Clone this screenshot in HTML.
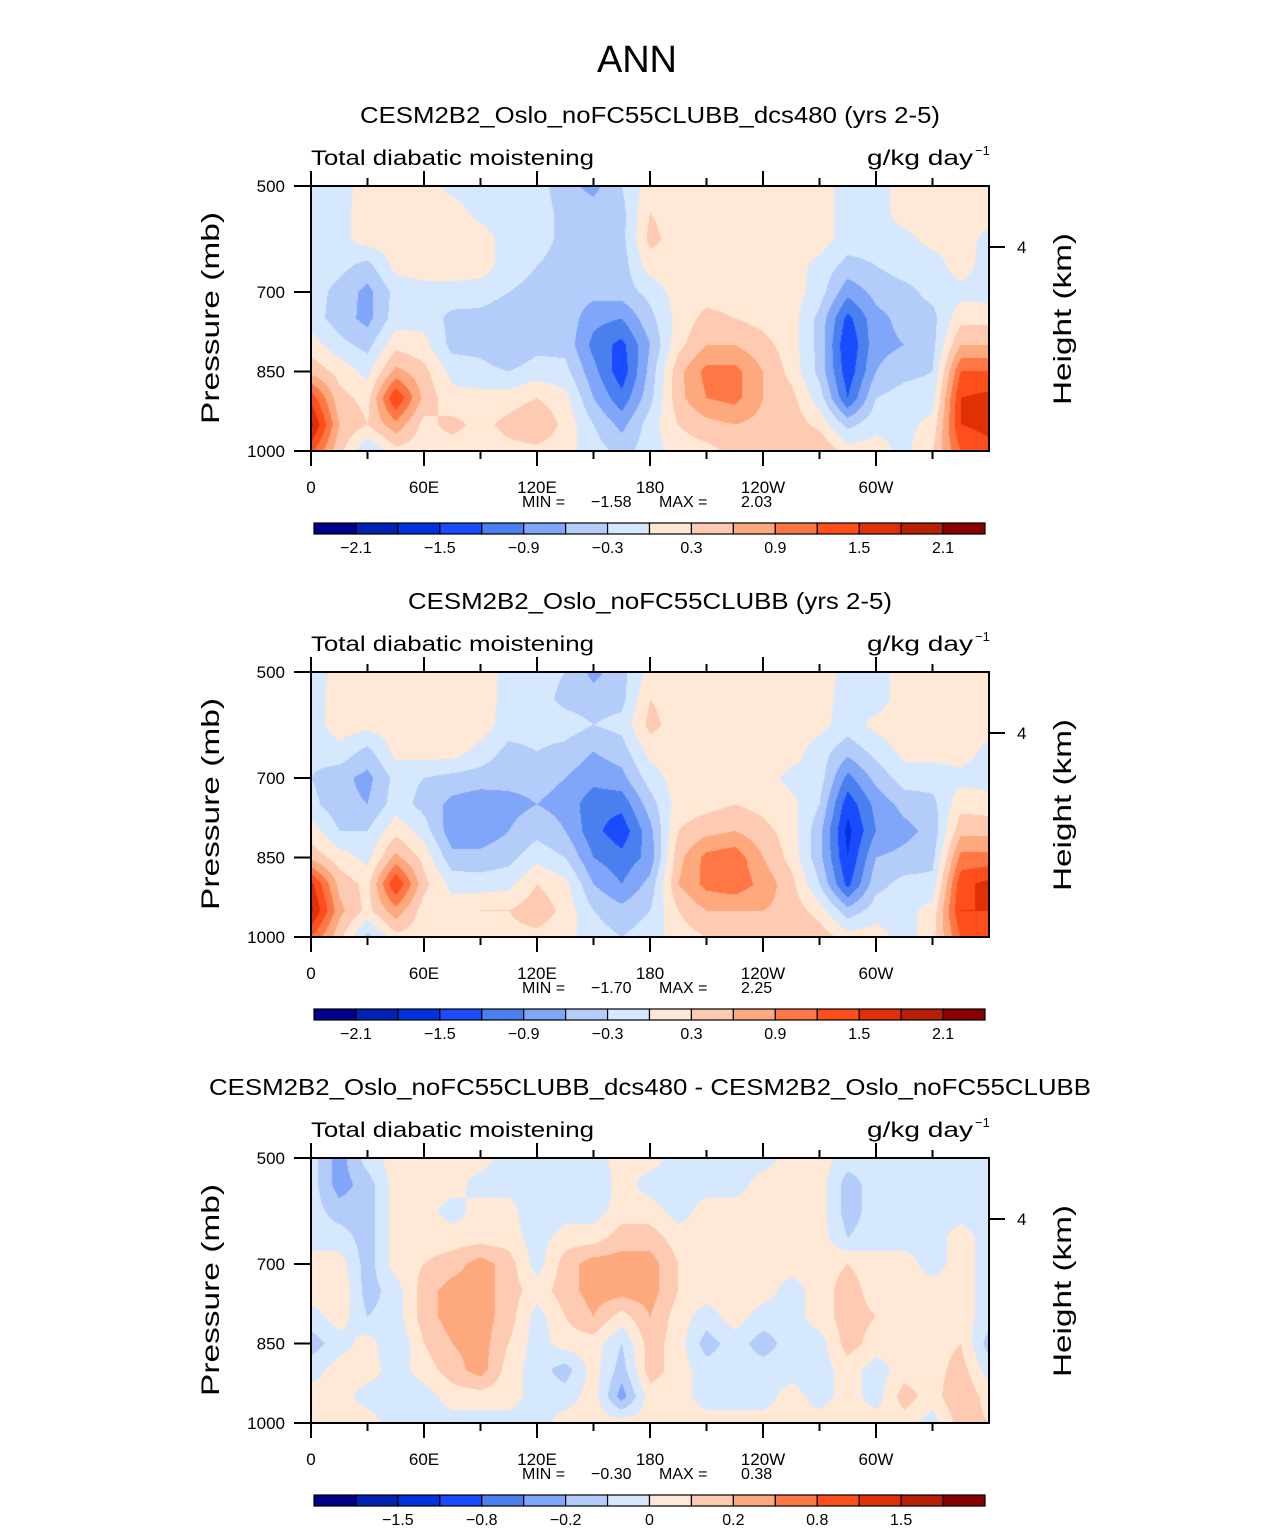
<!DOCTYPE html>
<html><head><meta charset="utf-8">
<style>
html,body{margin:0;padding:0;background:#fff;}
#root{position:relative;width:1285px;height:1531px;overflow:hidden;font-family:"Liberation Sans",sans-serif;}
canvas{position:absolute;}
svg{position:absolute;left:0;top:0;}
</style></head>
<body>
<div id="root">
<canvas id="c1" style="left:311px;top:186px" width="678" height="265"></canvas>
<canvas id="c2" style="left:311px;top:672px" width="678" height="265"></canvas>
<canvas id="c3" style="left:311px;top:1158px" width="678" height="265"></canvas>
<svg id="ov" width="1285" height="1531">
<text x="637" y="72" font-size="38" text-anchor="middle" font-weight="300" textLength="80">ANN</text>
</svg>
</div>
<script>
// ---------- data ----------
const lons = [0,15,30,45,60,75,90,105,120,135,150,165,180,195,210,225,240,255,270,285,300,315,330,345,360];
const plevs = [500,550,600,650,700,750,800,850,900,950,1000];
// field columns: one array per longitude, values from 500 to 1000 mb
const field1 = [
[-0.15,-0.15,-0.15,-0.15,-0.15,-0.15,0.15,0.5,1.4,1.9,1.3],
[-0.15,-0.1,-0.1,-0.2,-0.4,-0.45,-0.2,0.2,0.4,0.6,0.4],
[0.15,0.15,0.15,-0.4,-0.7,-0.7,-0.4,-0.1,0.2,0.3,-0.3],
[0.15,0.15,0.15,0.1,-0.2,-0.15,0.2,0.7,1.5,0.8,0.2],
[0.15,0.15,0.15,0.15,-0.1,-0.1,0.1,0.4,0.5,0.2,0.15],
[-0.1,0.15,0.15,0.15,-0.1,-0.4,-0.4,-0.1,0.1,0.4,0.15],
[-0.15,-0.1,0.15,0.15,-0.15,-0.4,-0.4,-0.2,0.1,0.2,0.15],
[-0.15,-0.15,-0.15,-0.15,-0.3,-0.5,-0.6,-0.3,0.15,0.4,0.2],
[-0.15,-0.15,-0.15,-0.3,-0.4,-0.6,-0.4,-0.15,0.3,0.6,0.2],
[-0.5,-0.4,-0.4,-0.45,-0.45,-0.4,-0.4,-0.2,0.1,0.2,0.1],
[-0.7,-0.45,-0.45,-0.45,-0.5,-0.8,-1.0,-0.8,-0.6,-0.3,-0.15],
[-0.3,-0.4,-0.4,-0.45,-0.45,-0.9,-1.3,-1.4,-1.1,-0.7,-0.4],
[0.15,0.3,0.4,0.15,-0.2,-0.4,-0.6,-0.5,-0.4,-0.15,-0.15],
[0.15,0.15,0.15,0.15,0.15,0.1,0.2,0.5,0.5,0.3,0.15],
[0.15,0.15,0.15,0.15,0.15,0.4,0.6,1.0,0.9,0.5,0.2],
[0.15,0.15,0.15,0.15,0.15,0.3,0.6,1.0,1.0,0.6,0.4],
[0.15,0.15,0.15,0.15,0.15,0.2,0.4,0.6,0.6,0.5,0.5],
[0.15,0.15,0.15,0.15,0.15,0.15,0.15,0.2,0.4,0.5,0.6],
[0.15,0.15,0.15,-0.1,-0.15,-0.4,-0.4,-0.4,-0.15,0.2,0.6],
[-0.15,-0.15,-0.15,-0.4,-0.8,-1.3,-1.5,-1.4,-1.2,-0.4,0.15],
[-0.15,-0.15,-0.15,-0.3,-0.5,-0.7,-0.7,-0.6,-0.3,-0.1,0.15],
[0.15,0.15,-0.1,-0.15,-0.4,-0.5,-0.6,-0.4,-0.15,-0.1,-0.1],
[0.15,0.15,0.1,-0.15,-0.2,-0.4,-0.4,-0.3,-0.15,0.1,0.3],
[0.15,0.15,0.15,0.15,-0.1,0.2,0.6,1.2,1.5,1.5,1.2],
[0.15,0.15,-0.1,-0.15,-0.15,0.2,0.6,1.2,1.6,1.6,1.4]
];
const field2 = [
[-0.15,-0.15,-0.15,-0.2,-0.3,-0.2,0.15,0.5,1.6,1.9,1.2],
[0.1,0.15,0.15,-0.1,-0.5,-0.5,-0.3,0.15,0.5,0.7,0.4],
[0.15,0.15,0.1,-0.4,-0.7,-0.6,-0.3,-0.1,0.2,0.2,-0.4],
[0.15,0.15,0.15,0.1,-0.2,-0.15,0.2,0.7,1.5,0.8,0.2],
[0.15,0.15,0.15,0.15,-0.3,-0.4,-0.15,0.2,0.4,0.15,0.15],
[0.15,0.15,0.15,0.15,-0.4,-0.7,-0.8,-0.5,-0.1,0.15,0.15],
[0.15,0.15,0.15,-0.1,-0.45,-0.8,-0.8,-0.5,-0.15,0.3,0.15],
[-0.1,-0.1,-0.15,-0.4,-0.5,-0.7,-0.6,-0.4,-0.1,0.3,0.2],
[-0.15,-0.15,-0.15,-0.3,-0.5,-0.6,-0.4,-0.1,0.3,0.5,0.2],
[-0.3,-0.4,-0.15,-0.4,-0.6,-0.7,-0.6,-0.3,0.1,0.2,0.1],
[-0.7,-0.45,-0.3,-0.6,-0.8,-1.1,-1.1,-0.9,-0.6,-0.3,-0.15],
[-0.4,-0.4,-0.2,-0.45,-0.7,-1.1,-1.4,-1.1,-0.9,-0.5,-0.3],
[0.1,0.3,0.4,0.1,-0.15,-0.45,-0.7,-0.8,-0.5,-0.3,-0.15],
[0.15,0.15,0.15,0.15,0.15,0.15,0.3,0.5,0.6,0.3,0.15],
[0.15,0.15,0.15,0.15,0.15,0.2,0.5,1.0,1.0,0.6,0.3],
[0.15,0.15,0.15,0.15,0.15,0.3,0.6,1.1,1.1,0.6,0.4],
[0.15,0.15,0.15,0.15,0.15,0.2,0.4,0.6,0.8,0.6,0.5],
[0.15,0.15,0.15,0.15,-0.1,0.1,0.15,0.2,0.4,0.5,0.6],
[0.15,0.15,0.1,-0.15,-0.15,-0.3,-0.5,-0.5,-0.3,0.15,0.5],
[-0.1,-0.15,-0.15,-0.5,-1.0,-1.4,-1.6,-1.5,-1.3,-0.5,0.15],
[-0.15,-0.15,0.1,-0.2,-0.5,-0.8,-0.9,-0.6,-0.4,-0.15,0.15],
[0.15,0.15,0.15,0.1,-0.15,-0.5,-0.7,-0.5,-0.2,-0.1,-0.15],
[0.15,0.15,0.15,0.1,-0.15,-0.4,-0.5,-0.4,-0.2,0.1,0.2],
[0.15,0.15,0.15,0.15,-0.1,0.2,0.5,1.0,1.4,1.5,1.2],
[0.15,0.15,0.15,-0.1,-0.15,0.15,0.5,1.0,1.6,1.5,1.2]
];
const field3 = [
[-0.05,-0.05,-0.05,-0.05,0.05,0.05,-0.05,-0.15,-0.05,0.05,0.05],
[-0.25,-0.25,-0.15,-0.05,0.05,0.1,0.05,-0.05,0.05,0.05,0.1],
[-0.05,-0.15,-0.15,-0.15,-0.15,-0.15,-0.1,0.05,0.05,-0.05,0.05],
[0.05,0.05,0.05,0.05,0.05,-0.05,-0.05,-0.1,-0.05,-0.05,-0.05],
[0.05,0.05,0.05,0.05,0.1,0.15,0.15,0.1,0.05,-0.05,-0.05],
[0.05,0.05,-0.05,0.05,0.15,0.25,0.25,0.2,0.15,0.05,-0.05],
[0.05,-0.05,0.05,0.05,0.25,0.25,0.25,0.25,0.25,0.05,-0.05],
[-0.05,-0.05,0.05,0.05,0.15,0.15,0.15,0.1,0.05,0.05,-0.05],
[-0.05,-0.05,-0.1,-0.05,-0.05,0.05,-0.05,-0.05,-0.05,-0.05,-0.05],
[-0.05,-0.05,-0.05,0.05,0.15,0.15,0.1,0.05,-0.15,-0.05,0.05],
[-0.05,-0.1,-0.05,0.05,0.25,0.25,0.2,0.05,0.05,0.05,0.05],
[0.05,0.05,0.05,0.15,0.25,0.25,0.05,-0.1,-0.15,-0.25,0.05],
[0.05,-0.05,0.05,0.15,0.25,0.25,0.2,0.15,0.15,0.05,0.05],
[-0.05,-0.05,-0.05,0.05,0.1,0.1,0.05,0.05,0.05,0.05,0.05],
[-0.05,-0.05,0.05,0.05,0.05,0.05,-0.05,-0.15,-0.05,-0.05,0.05],
[-0.05,-0.05,0.05,0.05,0.05,0.05,0.05,-0.05,-0.05,-0.05,0.05],
[-0.05,0.05,0.05,0.05,0.05,0.05,-0.05,-0.15,-0.05,-0.05,0.05],
[0.05,0.05,0.05,0.05,0.05,-0.05,-0.05,-0.05,-0.05,0.05,0.05],
[0.05,0.05,0.05,0.05,0.05,0.05,0.05,-0.05,-0.05,-0.05,0.05],
[-0.05,-0.15,-0.15,-0.1,0.1,0.15,0.15,0.15,0.05,0.05,0.1],
[-0.05,-0.05,-0.05,-0.05,0.05,0.05,0.1,0.05,-0.05,-0.05,0.05],
[-0.05,-0.05,-0.05,-0.05,0.05,0.05,0.05,0.05,0.05,0.15,0.05],
[-0.05,-0.05,-0.05,-0.05,-0.05,0.05,0.05,0.05,0.05,0.05,-0.05],
[-0.05,-0.05,-0.05,0.05,0.05,0.05,0.05,0.1,0.15,0.2,0.15],
[-0.05,-0.05,-0.05,-0.05,-0.05,-0.05,-0.05,-0.15,-0.05,0.05,0.1]
];
const levelsAbs = [-2.1,-1.8,-1.5,-1.2,-0.9,-0.6,-0.3,0,0.3,0.6,0.9,1.2,1.5,1.8,2.1];
const levelsDiff = [-2,-1.5,-1,-0.8,-0.5,-0.2,-0.1,0,0.1,0.2,0.5,0.8,1,1.5,2];
const cbLabelsAbs = ["−2.1","−1.5","−0.9","−0.3","0.3","0.9","1.5","2.1"];
const cbLabelsDiff = ["−1.5","−0.8","−0.2","0","0.2","0.8","1.5"];
const cbLabelIdxAbs = [0,2,4,6,8,10,12,14];
const cbLabelIdxDiff = [1,3,5,7,9,11,13];
const xTickLabels = ["0","60E","120E","180","120W","60W"];
const xTickLons = [0,60,120,180,240,300];
const yTickLabels = ["500","700","850","1000"];
const yTickVals = [500,700,850,1000];
const titles = ["CESM2B2_Oslo_noFC55CLUBB_dcs480 (yrs 2-5)","CESM2B2_Oslo_noFC55CLUBB (yrs 2-5)","CESM2B2_Oslo_noFC55CLUBB_dcs480 - CESM2B2_Oslo_noFC55CLUBB"];
const titleWidths = [580,484,882];
const minVals = ["−1.58","−1.70","−0.30"];
const maxVals = ["2.03","2.25","0.38"];
const colors = ["#00008a","#0022b4","#0033dd","#1a4cff","#4a7fef","#80a6f9","#b3ccfa","#d6e8fe","#ffe8d6","#fecbb2","#fea87d","#fe7744","#fe4e1c","#e03005","#b82005","#880000"];

// ---------- drawing ----------
const W=678,H=265,X0=311;
const panelTop=[186,672,1158];
const fields=[field1,field2,field3];
const levs=[levelsAbs,levelsAbs,levelsDiff];
function hex(c){return [parseInt(c.slice(1,3),16),parseInt(c.slice(3,5),16),parseInt(c.slice(5,7),16)];}
const rgb=colors.map(hex);
function levelIndex(v,L){let k=0;while(k<L.length&&v>=L[k])k++;return k;}
function xOfLon(l){return X0+l/360*W;}
function yOfP(p,t){return t+(p-500)/500*H;}
function drawField(id,f,L){
  const cv=document.getElementById(id),ctx=cv.getContext('2d');
  const img=ctx.createImageData(W,H);
  const nl=lons.length-1,np=plevs.length-1;
  for(let j=0;j<H;j++){
    const p=500+(j+0.5)/H*500;
    let fj=(p-plevs[0])/(plevs[np]-plevs[0])*np; let j0=Math.min(np-1,Math.floor(fj)); let ty=fj-j0;
    for(let i=0;i<W;i++){
      const lon=(i+0.5)/W*360;
      let fi=lon/(lons[nl]-lons[0])*nl; let i0=Math.min(nl-1,Math.floor(fi)); let tx=fi-i0;
      const v=(f[i0][j0]*(1-tx)+f[i0+1][j0]*tx)*(1-ty)+(f[i0][j0+1]*(1-tx)+f[i0+1][j0+1]*tx)*ty;
      const c=rgb[levelIndex(v,L)];const o=(j*W+i)*4;
      img.data[o]=c[0];img.data[o+1]=c[1];img.data[o+2]=c[2];img.data[o+3]=255;
    }
  }
  ctx.putImageData(img,0,0);
}
const NS='http://www.w3.org/2000/svg';
const ov=document.getElementById('ov');
function mk(tag,attrs,parent){const e=document.createElementNS(NS,tag);for(const k in attrs)e.setAttribute(k,attrs[k]);(parent||ov).appendChild(e);return e;}
function txt(s,attrs,parent){const e=mk('text',attrs,parent);e.textContent=s;return e;}

for(let k=0;k<3;k++){
  drawField('c'+(k+1),fields[k],levs[k]);
  const t=panelTop[k];
  const g=mk('g',{});
  
  
  const tt=txt(titles[k],{x:650,y:t-63,'font-size':23,'text-anchor':'middle',textLength:titleWidths[k],lengthAdjust:'spacingAndGlyphs'},g);
  
  
  const lt=txt("Total diabatic moistening",{x:311,y:t-21,'font-size':21,textLength:283,lengthAdjust:'spacingAndGlyphs','font-weight':'300'},g);
  
  
  const ut=txt("g/kg day",{x:867,y:t-21,'font-size':21,textLength:106,lengthAdjust:'spacingAndGlyphs'},g);
  
  
  const us=txt("−1",{x:975,y:t-31,'font-size':13},g);
  
  
  const fr=mk('rect',{x:311,y:t,width:W,height:H,fill:'none',stroke:'#000','stroke-width':2},g);
  
  
  for(let lon=0;lon<=330;lon+=30){
    const x=xOfLon(lon),len=lon%60===0?15:8;
    const a=mk('line',{x1:x,x2:x,y1:t,y2:t-len,stroke:'#000','stroke-width':2},g);
    
    
    const b=mk('line',{x1:x,x2:x,y1:t+H,y2:t+H+len,stroke:'#000','stroke-width':2},g);
    
    
  }
  xTickLabels.forEach((s,i)=>{
    const e=txt(s,{x:xOfLon(xTickLons[i]),y:t+H+42,'font-size':17,'text-anchor':'middle'},g);
    
    
  });
  yTickLabels.forEach((s,i)=>{
    const y=yOfP(yTickVals[i],t);
    const l=mk('line',{x1:294,x2:311,y1:y,y2:y,stroke:'#000','stroke-width':2},g);
    
    
    const e=txt(s,{x:285,y:y+6,'font-size':17,'text-anchor':'end'},g);
    
    
  });
  const rt=mk('line',{x1:989,x2:1005,y1:t+61,y2:t+61,stroke:'#000','stroke-width':2},g);
  
  
  const rl=txt("4",{x:1017,y:t+67,'font-size':17},g);
  
  
  const pl=txt("Pressure (mb)",{x:0,y:0,'font-size':25,'text-anchor':'middle',textLength:212,lengthAdjust:'spacingAndGlyphs','font-weight':'300',transform:`translate(219,${t+132}) rotate(-90)`},g);
  
  
  const hl=txt("Height (km)",{x:0,y:0,'font-size':25,'text-anchor':'middle',textLength:172,lengthAdjust:'spacingAndGlyphs','font-weight':'300',transform:`translate(1071,${t+133}) rotate(-90)`},g);
  
  
  const my=t+H+56;
  [["MIN =",522],[minVals[k],591],["MAX =",659],[maxVals[k],741]].forEach(p=>{
    const e=txt(p[0],{x:p[1],y:my,'font-size':16},g);
    
    
  });
  // colorbar
  const cy=t+337,bw=(985-314)/16;
  for(let c=0;c<16;c++){
    const r=mk('rect',{x:314+c*bw,y:cy,width:bw,height:11,fill:colors[c],stroke:'#000','stroke-width':1.2},g);
    
    
  }
  const labs=k<2?cbLabelsAbs:cbLabelsDiff, idx=k<2?cbLabelIdxAbs:cbLabelIdxDiff;
  labs.forEach((s,i)=>{
    const e=txt(s,{x:314+(idx[i]+1)*bw,y:cy+30,'font-size':16,'text-anchor':'middle'},g);
    
    
  });
}
</script>
</body></html>
